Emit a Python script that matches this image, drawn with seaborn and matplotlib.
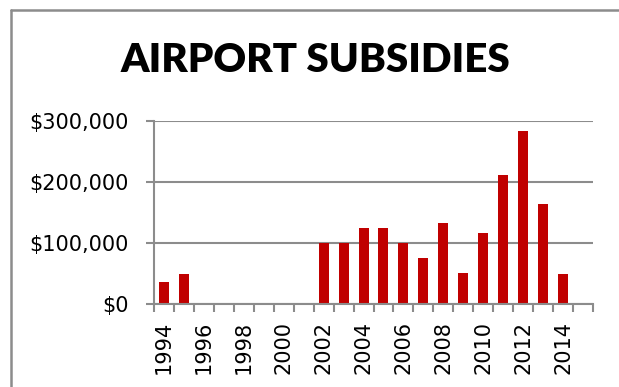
import matplotlib
matplotlib.use("Agg")
import matplotlib.pyplot as plt
from matplotlib.lines import Line2D
from matplotlib.ticker import FuncFormatter
import seaborn as sns
import pandas as pd

# Annual airport subsidy amounts (USD); years without a subsidy are 0
years = [str(y) for y in range(1994, 2016)]
subsidies = [37000, 50000, 0, 0, 0, 0, 0, 0,
             100000, 100000, 125000, 125000, 100000, 75000,
             133000, 52000, 116000, 212000, 284000, 164000, 50000, 0]
y_ticks = [0, 100000, 200000, 300000]

df = pd.DataFrame({"year": years, "subsidy": subsidies})

sns.set_theme(style="white")
plt.rcParams["font.family"] = ["DejaVu Sans"]

fig = plt.figure(figsize=(6.19, 3.87), dpi=100)
ax = fig.add_axes([154 / 619, 1 - 304.3 / 387, (593 - 154) / 619, (304.3 - 121) / 387])

sns.barplot(data=df, x="year", y="subsidy", order=years, color="#C00000",
            width=0.5, linewidth=0, saturation=1, ax=ax)

grey = "#8C8C8C"
ax.set_xlim(-0.5, len(years) - 0.5)
ax.set_ylim(0, 300000)
ax.set_yticks(y_ticks)
ax.yaxis.set_major_formatter(FuncFormatter(lambda v, _: f"${v:,.0f}"))
ax.yaxis.grid(True, color=grey, linewidth=1.5)
ax.set_axisbelow(True)

# Category boundaries carry the tick marks; labels sit at every other year
ax.set_xticks([i - 0.5 for i in range(len(years) + 1)])
ax.set_xticklabels([])
ax.set_xticks(list(range(0, len(years), 2)), minor=True)
ax.set_xticklabels(years[0:len(years):2], minor=True, rotation=90, fontsize=15)
ax.tick_params(axis="x", which="major", length=5.5, width=1.5, color=grey, bottom=True)
ax.tick_params(axis="x", which="minor", length=0, pad=12, bottom=True, labelcolor="black")
ax.tick_params(axis="y", length=5.5, width=1.5, color=grey, pad=13, labelsize=15,
               left=True, labelcolor="black")

for side in ("top", "right"):
    ax.spines[side].set_visible(False)
for side in ("left", "bottom"):
    ax.spines[side].set_color(grey)
    ax.spines[side].set_linewidth(1.5)

ax.set_xlabel("")
ax.set_ylabel("")

fig.text(315 / 619, 1 - 60 / 387, "AIRPORT SUBSIDIES", ha="center", va="center",
         fontsize=29, fontweight="heavy", color="black", family=["Lato", "DejaVu Sans"])

# Outer chart frame (left and top edges)
fig.add_artist(Line2D([10.5 / 619, 10.5 / 619], [0, 1 - 10 / 387], color=grey,
                      linewidth=1.8, transform=fig.transFigure))
fig.add_artist(Line2D([10.5 / 619, 1], [1 - 10 / 387, 1 - 10 / 387], color=grey,
                      linewidth=1.8, transform=fig.transFigure))

fig.savefig("out.png", dpi=100)
